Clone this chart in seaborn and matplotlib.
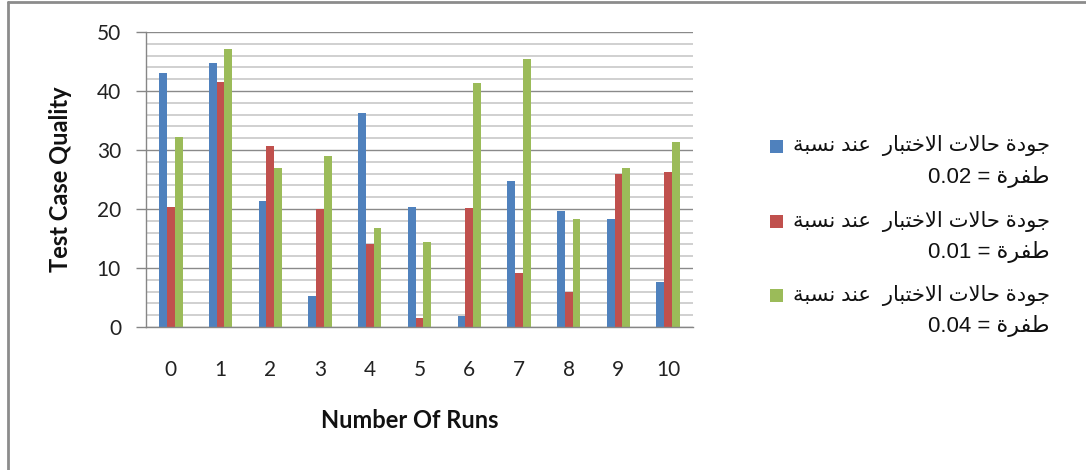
import numpy as np
import pandas as pd
import matplotlib
matplotlib.use("Agg")
import matplotlib.pyplot as plt
from matplotlib.patches import Rectangle
from matplotlib.lines import Line2D
import seaborn as sns

# ---------------- data ----------------
runs = [0, 1, 2, 3, 4, 5, 6, 7, 8, 9, 10]
q_002 = [43.1, 44.8, 21.3, 5.2, 36.3, 20.4, 1.8, 24.8, 19.6, 18.3, 7.6]
q_001 = [20.4, 41.5, 30.7, 20.0, 14.1, 1.5, 20.2, 9.1, 6.0, 25.9, 26.3]
q_004 = [32.2, 47.2, 27.0, 28.9, 16.7, 14.4, 41.3, 45.5, 18.3, 27.0, 31.3]
series_labels = [
    "جودة حالات الاختبار  عند نسبة\nطفرة = 0.02",
    "جودة حالات الاختبار  عند نسبة\nطفرة = 0.01",
    "جودة حالات الاختبار  عند نسبة\nطفرة = 0.04",
]
colors = ["#4F81BD", "#C0504D", "#9BBB59"]
x_title = "Number Of Runs"
y_title = "Test Case Quality"

# ------------- Arabic shaping (matplotlib has no shaper) -------------
FORMS = {
    'ا': (0xFE8D, 0xFE8E, None, None),
    'ب': (0xFE8F, 0xFE90, 0xFE91, 0xFE92),
    'ة': (0xFE93, 0xFE94, None, None),
    'ت': (0xFE95, 0xFE96, 0xFE97, 0xFE98),
    'ج': (0xFE9D, 0xFE9E, 0xFE9F, 0xFEA0),
    'ح': (0xFEA1, 0xFEA2, 0xFEA3, 0xFEA4),
    'خ': (0xFEA5, 0xFEA6, 0xFEA7, 0xFEA8),
    'د': (0xFEA9, 0xFEAA, None, None),
    'ر': (0xFEAD, 0xFEAE, None, None),
    'س': (0xFEB1, 0xFEB2, 0xFEB3, 0xFEB4),
    'ط': (0xFEC1, 0xFEC2, 0xFEC3, 0xFEC4),
    'ع': (0xFEC9, 0xFECA, 0xFECB, 0xFECC),
    'ف': (0xFED1, 0xFED2, 0xFED3, 0xFED4),
    'ل': (0xFEDD, 0xFEDE, 0xFEDF, 0xFEE0),
    'ن': (0xFEE5, 0xFEE6, 0xFEE7, 0xFEE8),
    'و': (0xFEED, 0xFEEE, None, None),
}


def shape_word(w):
    out = []
    i = 0
    n = len(w)
    prev_joins = False
    while i < n:
        c = w[i]
        if c == 'ل' and i + 1 < n and w[i + 1] == 'ا':
            out.append(chr(0xFEFC if prev_joins else 0xFEFB))
            prev_joins = False
            i += 2
            continue
        f = FORMS.get(c)
        if f is None:
            out.append(c)
            prev_joins = False
            i += 1
            continue
        nxt = w[i + 1] if i + 1 < n else None
        next_joins = f[2] is not None and nxt in FORMS
        if prev_joins and next_joins:
            code = f[3]
        elif prev_joins:
            code = f[1]
        elif next_joins:
            code = f[2]
        else:
            code = f[0]
        out.append(chr(code))
        prev_joins = next_joins
        i += 1
    return ''.join(reversed(out))


def rtl_line(line):
    toks = line.split(' ')
    return ' '.join(shape_word(t) if any(ch in FORMS for ch in t) else t
                    for t in reversed(toks))


# ---------------- frame ----------------
df = pd.DataFrame({
    "run": runs * 3,
    "value": q_002 + q_001 + q_004,
    "series": [series_labels[0]] * len(runs) + [series_labels[1]] * len(runs)
              + [series_labels[2]] * len(runs),
})

sns.set_theme(style="white")
plt.rcParams['font.family'] = ['Lato', 'DejaVu Sans']

W, H = 1086, 470
fig = plt.figure(figsize=(W / 100, H / 100), dpi=100)
ax = fig.add_axes([146 / W, 1 - 327 / H, (693 - 146) / W, (327 - 32) / H])

sns.barplot(data=df, x="run", y="value", hue="series", palette=colors,
            width=0.47, gap=0, ax=ax, legend=False, errorbar=None,
            saturation=1, linewidth=0)

ax.set_ylim(0, 50)
ax.set_xlim(-0.5, 10.5)
ax.set_yticks(np.arange(0, 51, 10))
ax.set_yticks(np.arange(0, 51, 2), minor=True)
ax.grid(False)
ax.grid(True, axis='y', which='minor', color='#c8c8c8', linewidth=1.2, zorder=0)
ax.grid(True, axis='y', which='major', color='#8a8a8a', linewidth=1.0, zorder=0)
ax.set_axisbelow(True)

for s in ['right', 'top']:
    ax.spines[s].set_visible(False)
for s in ['left', 'bottom']:
    ax.spines[s].set_color('#868686')
    ax.spines[s].set_linewidth(1.0)

ax.tick_params(axis='y', which='major', left=True, length=7, width=1,
               color='#868686', pad=11, labelsize=15, labelcolor='#222222')
ax.tick_params(axis='y', which='minor', left=False)
ax.tick_params(axis='x', bottom=False, pad=18, labelsize=15, labelcolor='#222222')

ax.set_xlabel(x_title, fontsize=17, fontweight='bold', color='#111111')
ax.set_ylabel(y_title, fontsize=17, fontweight='bold', color='#111111')
ax.xaxis.set_label_coords((409.5 - 146) / (693 - 146), (327 - 421) / (327 - 32))
ax.yaxis.set_label_coords((60 - 146) / (693 - 146), 0.5)
ax.xaxis.label.set_verticalalignment('center')
ax.yaxis.label.set_verticalalignment('center')

# ---------------- legend (manual, right-aligned RTL) ----------------
leg_y = [146, 221, 295]
for lab, col, yc in zip(series_labels, colors, leg_y):
    fig.patches.append(Rectangle((770 / W, 1 - (yc + 6.5) / H), 13 / W, 13 / H,
                                 transform=fig.transFigure, facecolor=col,
                                 edgecolor='none'))
    l1, l2 = lab.split('\n')
    fig.text(1050 / W, 1 - yc / H, rtl_line(l1), ha='right', va='center',
             fontsize=15.2, family=['Liberation Sans', 'DejaVu Sans'], color='#111111')
    fig.text(1050 / W, 1 - (yc + 31) / H, rtl_line(l2), ha='right', va='center',
             fontsize=16, family=['Liberation Sans', 'DejaVu Sans'], color='#111111')

# outer chart border (top and left visible in the crop)
fig.add_artist(Line2D([8 / W, 8 / W], [0, 1 - 2 / H], transform=fig.transFigure,
                      color='#8c8c8c', linewidth=2))
fig.add_artist(Line2D([8 / W, 1], [1 - 2 / H, 1 - 2 / H], transform=fig.transFigure,
                      color='#8c8c8c', linewidth=2))

fig.savefig("out.png", dpi=100)
